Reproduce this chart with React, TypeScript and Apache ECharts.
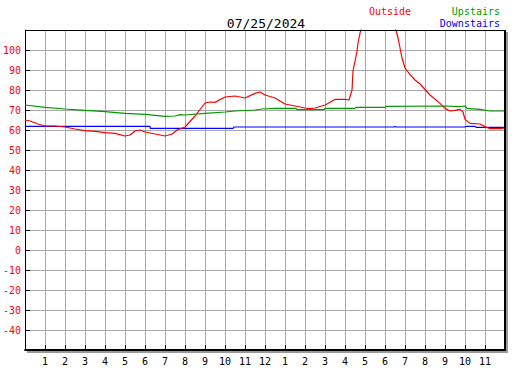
import React, { useEffect, useRef } from "react";
import * as echarts from "echarts";

const title = "07/25/2024";
const FONT = "DejaVu Sans Mono";

const outsideHours = [0, 0.25, 0.65, 1, 1.5, 2, 2.5, 3, 3.5, 4, 4.5, 5, 5.25, 5.5, 5.75, 6, 6.5, 7, 7.35, 7.6, 8, 8.5, 9, 9.25, 9.5, 10, 10.5, 11, 11.5, 11.75, 12, 12.5, 13, 13.5, 14, 14.25, 14.5, 15, 15.5, 16, 16.2, 16.35, 16.4, 16.5, 16.6, 16.65, 16.75, 16.85, 17.25, 17.75, 18.25, 18.55, 18.65, 18.75, 18.85, 19, 19.25, 19.5, 19.75, 20.25, 20.75, 21, 21.25, 21.5, 21.75, 21.9, 22, 22.25, 22.75, 23, 23.25, 23.75, 24];
const outsideTemps = [65, 64.5, 63, 62, 62, 61.5, 60.5, 59.7, 59.3, 58.7, 58.3, 57, 57.5, 59.5, 60, 59, 58, 57, 58, 60, 61.5, 67, 73.5, 74, 73.8, 76.5, 77, 76, 78.3, 79, 77.5, 76, 73, 72, 71, 70.7, 71, 72.5, 75.3, 75.3, 75, 80, 89.5, 94.5, 99.5, 103.5, 108.5, 112, 118, 120, 116, 110, 106, 101, 96, 91, 87.7, 85, 83, 77.5, 73.3, 70.8, 69.5, 69.8, 70.3, 69, 65.3, 63.3, 63, 61.7, 60.7, 60.7, 61];

const upstairsHours = [0, 1, 2, 3, 4, 5, 6, 7, 7.5, 7.75, 8, 9, 10, 10.5, 11.5, 11.85, 12.5, 13.55, 13.6, 14.95, 15, 16.5, 16.55, 18, 18.05, 21, 21.75, 22, 22.1, 22.75, 23.25, 24];
const upstairsTemps = [72.5, 71.3, 70.5, 69.8, 69.2, 68.3, 67.8, 66.8, 67, 67.7, 67.5, 68.3, 69, 69.5, 70, 70.5, 70.8, 70.8, 70.2, 70.2, 70.8, 70.8, 71.3, 71.3, 71.8, 72, 71.7, 72, 70.8, 70.3, 69.5, 69.5];

const downstairsHours = [0, 6.25, 6.26, 10.4, 10.45, 18.45, 18.5, 18.55, 22, 22.05, 22.5, 22.55, 24];
const downstairsTemps = [61.8, 61.8, 60.8, 60.8, 61.5, 61.5, 61.8, 61.5, 61.5, 61.8, 61.8, 61.3, 61.3];

const zip = (xs: number[], ys: number[]) => xs.map((x, i) => [x, ys[i]]);

export default function App() {
  const ref = useRef<HTMLDivElement>(null);
  useEffect(() => {
    if (!ref.current) return;
    const chart = echarts.init(ref.current, undefined, { renderer: "svg" });
    const legendCommon = {
      icon: "none",
      itemWidth: 0,
      itemHeight: 10,
      itemGap: 0,
      padding: 0,
      selectedMode: false,
      textStyle: { fontFamily: FONT, fontSize: 10 },
    };
    chart.setOption({
      animation: false,
      backgroundColor: "#ffffff",
      title: {
        text: title,
        left: 261,
        textAlign: "center",
        top: 12,
        textStyle: { fontFamily: FONT, fontSize: 13, fontWeight: "normal", color: "#000" },
      },
      legend: [
        { ...legendCommon, left: 364, top: 6, data: [{ name: "Outside", textStyle: { color: "#ff0000" } }] },
        { ...legendCommon, right: 27, top: 6, data: [{ name: "Upstairs", textStyle: { color: "#009900" } }] },
        { ...legendCommon, right: 27, top: 18, data: [{ name: "Downstairs", textStyle: { color: "#0000ff" } }] },
      ],
      grid: { left: 25, top: 30, width: 480, height: 320, containLabel: false },
      xAxis: {
        type: "value",
        min: 0,
        max: 24,
        interval: 1,
        axisLine: { show: true, onZero: false, lineStyle: { color: "#000", width: 2 } },
        axisTick: { show: true, inside: true, length: 5, lineStyle: { color: "#000" } },
        axisLabel: {
          margin: 6,
          fontFamily: FONT,
          fontSize: 10,
          color: "#000",
          formatter: (v: number) => (v === 0 || v === 24 ? "" : String(v % 12 === 0 ? 12 : v % 12)),
        },
        splitLine: { show: true, lineStyle: { color: "#a8a8a8", width: 1 } },
      },
      yAxis: {
        type: "value",
        min: -50,
        max: 110,
        interval: 10,
        axisLine: { show: true, onZero: false, lineStyle: { color: "#000", width: 1 } },
        axisTick: { show: true, inside: true, length: 5, lineStyle: { color: "#000" } },
        axisLabel: {
          margin: 4,
          fontFamily: FONT,
          fontSize: 10,
          color: "#ff0000",
          formatter: (v: number) => (v === -50 || v === 110 ? "" : String(v)),
        },
        splitLine: { show: true, lineStyle: { color: "#a8a8a8", width: 1 } },
      },
      graphic: [
        { type: "rect", z: 100, shape: { x: 506, y: 32, width: 2, height: 321 }, style: { fill: "#999" } },
        { type: "rect", z: 100, shape: { x: 27, y: 351, width: 481, height: 2 }, style: { fill: "#999" } },
        { type: "line", z: 100, shape: { x1: 25, y1: 30.5, x2: 505, y2: 30.5 }, style: { stroke: "#000", lineWidth: 1 } },
        { type: "line", z: 100, shape: { x1: 505, y1: 30, x2: 505, y2: 351 }, style: { stroke: "#000", lineWidth: 2 } },
      ],
      series: [
        {
          name: "Downstairs",
          type: "line",
          showSymbol: false,
          data: zip(downstairsHours, downstairsTemps),
          lineStyle: { color: "#0000ff", width: 1.2 },
          itemStyle: { color: "#0000ff" },
          clip: true,
        },
        {
          name: "Upstairs",
          type: "line",
          showSymbol: false,
          data: zip(upstairsHours, upstairsTemps),
          lineStyle: { color: "#009900", width: 1.2 },
          itemStyle: { color: "#009900" },
          clip: true,
        },
        {
          name: "Outside",
          type: "line",
          showSymbol: false,
          data: zip(outsideHours, outsideTemps),
          lineStyle: { color: "#ff0000", width: 1.2 },
          itemStyle: { color: "#ff0000" },
          clip: true,
        },
      ],
    });
    return () => chart.dispose();
  }, []);
  return <div ref={ref} style={{ width: 527, height: 370, position: "absolute", left: 0, top: 0 }} />;
}
